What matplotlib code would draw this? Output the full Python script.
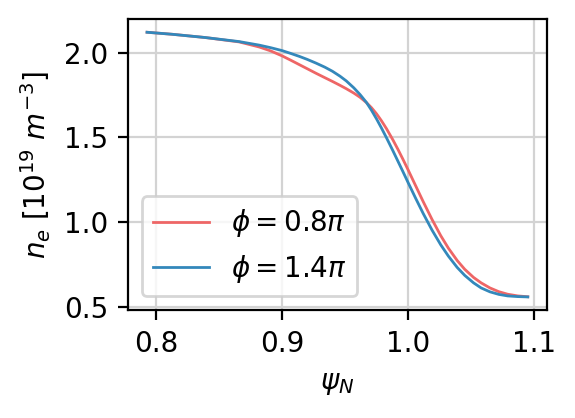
import matplotlib
matplotlib.use("Agg")
import matplotlib.pyplot as plt

# normalised flux coordinate
psi_n = [0.793, 0.813, 0.839, 0.866, 0.882, 0.891, 0.900, 0.907, 0.914, 0.920,
         0.927, 0.934, 0.940, 0.946, 0.951, 0.957, 0.962, 0.967, 0.971, 0.975,
         0.979, 0.983, 0.988, 0.992, 0.996, 1.000, 1.006, 1.012, 1.019, 1.026,
         1.032, 1.039, 1.045, 1.052, 1.058, 1.065, 1.072, 1.079, 1.087, 1.095]

# density profiles, 10^19 m^-3
ne_phi08 = [2.120, 2.108, 2.089, 2.063, 2.033, 2.010, 1.981, 1.955, 1.928, 1.905,
            1.878, 1.852, 1.830, 1.807, 1.787, 1.761, 1.736, 1.705, 1.675, 1.639,
            1.597, 1.550, 1.485, 1.429, 1.370, 1.309, 1.215, 1.121, 1.016, 0.919,
            0.846, 0.773, 0.721, 0.673, 0.641, 0.611, 0.589, 0.574, 0.564, 0.559]
ne_phi14 = [2.120, 2.108, 2.089, 2.065, 2.044, 2.029, 2.012, 1.995, 1.977, 1.960,
            1.938, 1.914, 1.890, 1.861, 1.833, 1.792, 1.752, 1.706, 1.660, 1.609,
            1.554, 1.496, 1.421, 1.359, 1.297, 1.234, 1.141, 1.051, 0.953, 0.865,
            0.799, 0.732, 0.685, 0.641, 0.611, 0.588, 0.573, 0.564, 0.560, 0.558]

labels = [r'$\phi = 0.8\pi$', r'$\phi = 1.4\pi$']

fig = plt.figure(figsize=(2.875, 2.09), dpi=200)
ax = fig.add_axes([0.2226, 0.258, 0.7284, 0.6965])
ax.plot(psi_n, ne_phi08, color='#ee6666', lw=1.0, label=labels[0])
ax.plot(psi_n, ne_phi14, color='#3388bb', lw=1.0, label=labels[1])
ax.grid(True, color='#d3d3d3', lw=0.8)
ax.set_axisbelow(True)
ax.set_xticks([0.8, 0.9, 1.0, 1.1])
ax.set_yticks([0.5, 1.0, 1.5, 2.0])
ax.set_xlabel(r'$\psi_N$')
ax.set_ylabel(r'$n_e$ [$10^{19}$ $m^{-3}$]')
ax.legend(loc='lower left')
fig.savefig("out.png", dpi=200)
